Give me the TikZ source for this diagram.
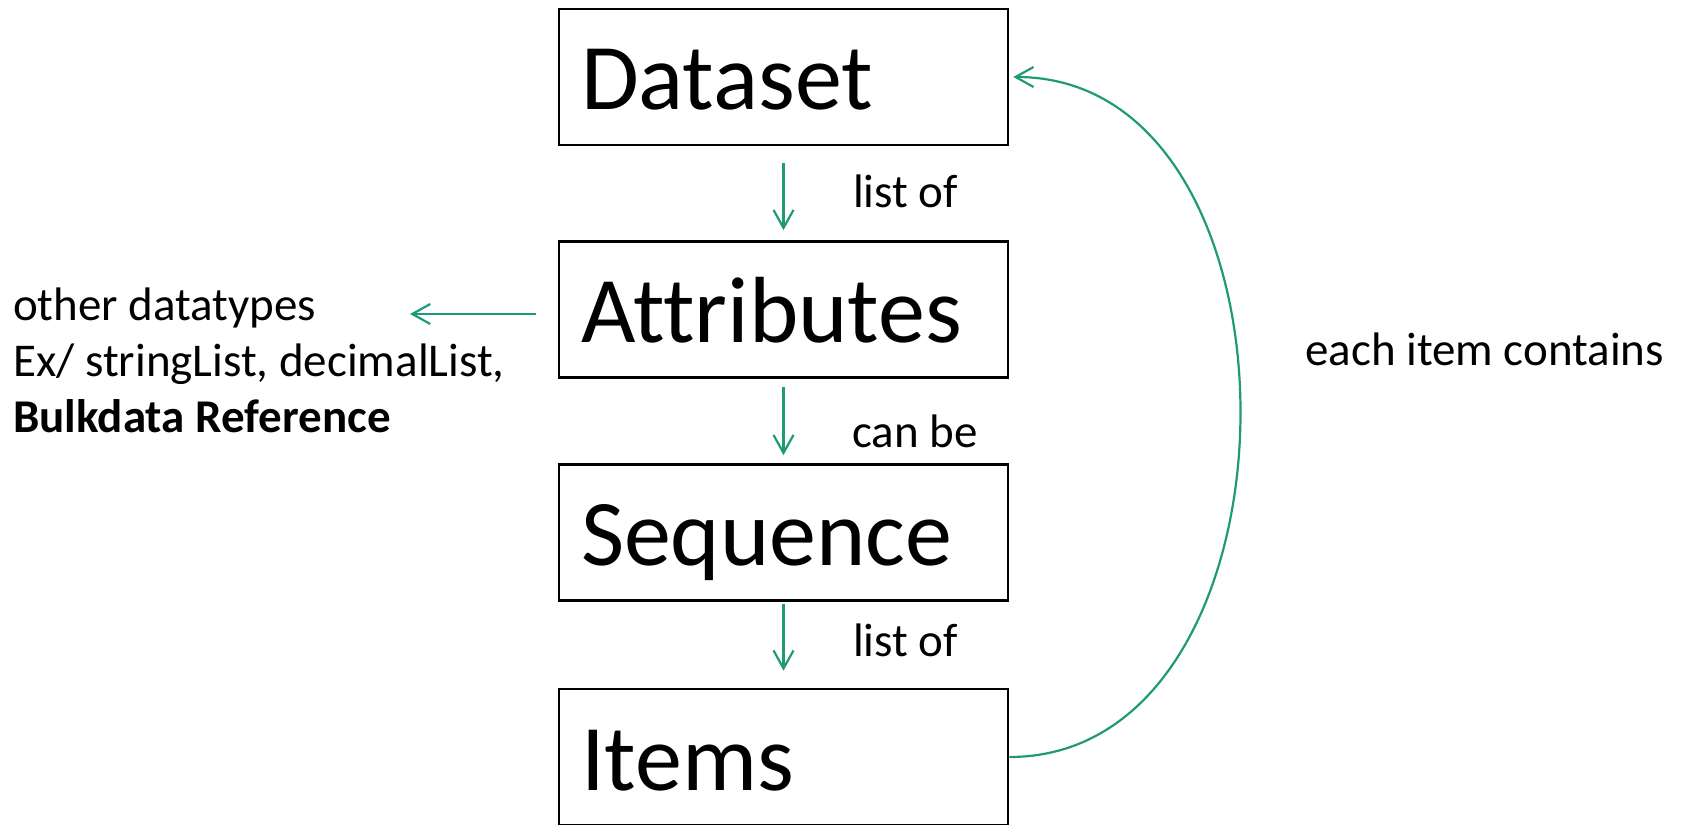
\documentclass[tikz,border=0pt]{standalone}
\usepackage{fontspec}
\setmainfont{Carlito}[Ligatures=NoCommon]
\usetikzlibrary{arrows.meta}
\definecolor{arrgreen}{RGB}{30,154,118}
\begin{document}
\begin{tikzpicture}[x=1pt,y=-1pt,
  box/.style={draw=black, line width=2.6pt, minimum width=449pt, minimum height=136pt,
    text width=405pt, inner xsep=22pt, align=left, text height=66pt, text depth=0pt,
    font=\fontsize{94}{113}\selectfont},
  lbl/.style={anchor=base west, inner sep=0pt, font=\fontsize{47}{56}\selectfont},
  arr/.style={draw=arrgreen, line width=2.2pt,
    -{Straight Barb[length=18pt,width=20pt,line width=2.2pt]}}]
\useasboundingbox (0,0) rectangle (1693,824);
\node[box] (dataset) at (783.5,77) {Dataset};
\node[box] (attr) at (783.5,309.5) {Attributes};
\node[box] (seq) at (783.5,532.5) {Sequence};
\node[box] (items) at (783.5,757) {Items};
\draw[arr] ([yshift=-17pt]dataset.south) -- ([yshift=10pt]attr.north);
\draw[arr] ([yshift=-8pt]attr.south) -- ([yshift=8pt]seq.north);
\draw[arr] ([yshift=-2pt]seq.south) -- ([yshift=17pt]items.north);
\coordinate (otherend) at (410,314);
\draw[arr] ([xshift=-22pt,yshift=-4.5pt]attr.west) -- (otherend);
\draw[arr] (items.east) .. controls +(305,0) and +(305,0) .. ([xshift=4pt]dataset.east);
\node[lbl] (lista) at (853,207) {list of};
\node[lbl] (canbe) at (852,447) {can be};
\node[lbl] (listb) at (853,656) {list of};
\node[lbl] (each) at (1305,365) {each item contains};
\node[lbl, align=left] (other) at (13,432)
  {other datatypes\\Ex/ stringList, decimalList,\\\textbf{Bulkdata Reference}};
\end{tikzpicture}
\end{document}
